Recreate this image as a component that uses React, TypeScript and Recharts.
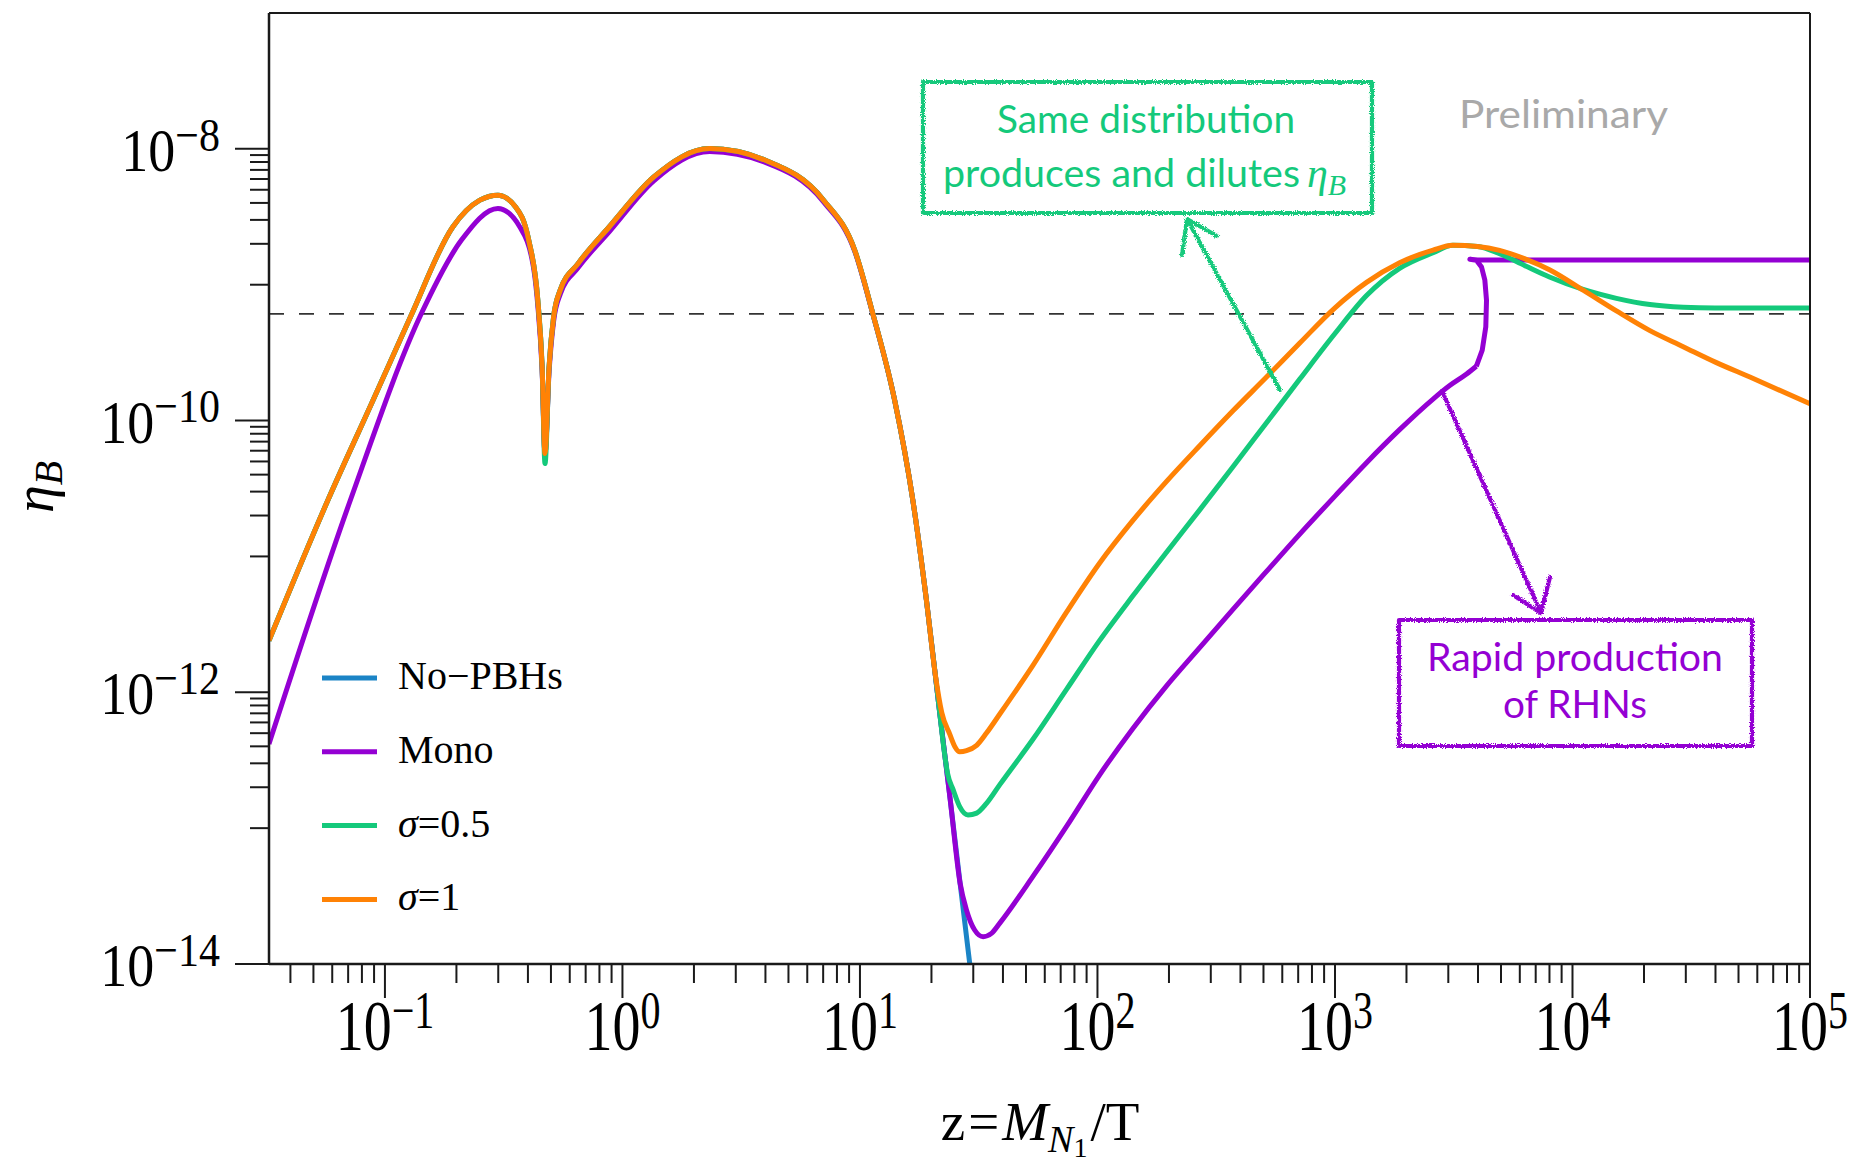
import React from "react";
import { LineChart, Line, XAxis, YAxis, ReferenceLine, Legend } from "recharts";

type Pt = [number, number];

// z = M_N1 / T  against  eta_B
const noPbhs: Pt[] = [
  [0.0325, 2.4e-12], [0.0575, 2.59e-11], [0.0891, 1.41e-10], [0.128, 5.79e-10],
  [0.193, 2.66e-9], [0.251, 4.19e-9], [0.299, 4.56e-9], [0.355, 3.74e-9],
  [0.403, 2.13e-9], [0.44, 7.76e-10], [0.459, 2.48e-10], [0.472, 5.73e-11],
  [0.491, 2.48e-10], [0.513, 5.79e-10], [0.547, 9.12e-10], [0.65, 1.43e-9],
  [0.879, 2.66e-9], [1.355, 6.21e-9], [2.33, 1.005e-8], [4.0, 8.24e-9],
  [7.03, 4.19e-9], [9.51, 1.79e-9], [11.3, 6.24e-10], [14.0, 1.41e-10],
  [16.7, 2.59e-11], [19.05, 4.76e-12], [21.6, 7.4e-13], [24.0, 1.61e-13],
  [26.4, 3.93e-14], [29.0, 1.0e-14],
];

const mono: Pt[] = [
  [0.0325, 4.17e-13], [0.0715, 2.59e-11], [0.143, 6.24e-10], [0.21, 2.13e-9],
  [0.299, 3.64e-9], [0.37, 2.66e-9], [0.422, 1.35e-9], [0.44, 7.08e-10],
  [0.459, 2.34e-10], [0.472, 5.73e-11], [0.491, 2.29e-10], [0.513, 5.37e-10],
  [0.547, 8.51e-10], [0.65, 1.33e-9], [0.879, 2.45e-9], [1.355, 5.82e-9],
  [2.33, 9.55e-9], [4.0, 7.94e-9], [7.03, 4.07e-9], [9.51, 1.76e-9],
  [11.3, 6.17e-10], [14.0, 1.41e-10], [16.7, 2.59e-11], [19.05, 4.76e-12],
  [21.6, 7.4e-13], [24.0, 1.61e-13], [26.4, 3.93e-14], [28.1, 2.49e-14],
  [30.4, 1.78e-14], [33.0, 1.59e-14], [35.8, 1.68e-14], [38.8, 2.0e-14],
  [53.5, 4.41e-14], [74.1, 1.03e-13], [102, 2.46e-13], [141, 5.42e-13],
  [195, 1.11e-12], [270, 2.14e-12], [372, 4.08e-12], [515, 7.76e-12],
  [711, 1.46e-11], [1000, 2.78e-11], [1358, 4.9e-11], [1871, 8.57e-11],
  [2588, 1.44e-10], [3041, 1.81e-10], [3581, 2.2e-10], [3936, 2.51e-10],
];

// the steep jump and the flat tail of the Mono curve (x goes back a little)
const monoJump: Pt[] = [
  [3936, 2.51e-10], [4169, 3.3e-10], [4315, 4.9e-10], [4345, 7.69e-10],
  [4276, 1.08e-9], [4140, 1.35e-9], [3945, 1.51e-9], [3698, 1.54e-9],
  [3981, 1.52e-9], [100000, 1.52e-9],
];

const sigmaHalf: Pt[] = [
  [0.0325, 2.4e-12], [0.0575, 2.59e-11], [0.0891, 1.41e-10], [0.128, 5.79e-10],
  [0.193, 2.66e-9], [0.251, 4.19e-9], [0.299, 4.56e-9], [0.355, 3.74e-9],
  [0.403, 2.13e-9], [0.44, 7.76e-10], [0.459, 2.48e-10], [0.472, 4.83e-11],
  [0.491, 2.48e-10], [0.513, 5.79e-10], [0.547, 9.12e-10], [0.65, 1.43e-9],
  [0.879, 2.66e-9], [1.355, 6.21e-9], [2.33, 1.005e-8], [4.0, 8.24e-9],
  [7.03, 4.19e-9], [9.51, 1.79e-9], [11.3, 6.24e-10], [14.0, 1.41e-10],
  [16.7, 2.59e-11], [19.05, 4.76e-12], [21.6, 7.4e-13], [22.6, 3.76e-13],
  [23.4, 2.51e-13], [24.7, 1.91e-13], [26.3, 1.44e-13], [28.5, 1.25e-13],
  [31.0, 1.29e-13], [34.1, 1.52e-13], [38.8, 2.09e-13], [53.5, 4.51e-13],
  [74.1, 1.05e-12], [102, 2.4e-12], [141, 5.13e-12], [195, 1.07e-11],
  [270, 2.21e-11], [372, 4.57e-11], [515, 9.64e-11], [711, 2.02e-10],
  [1000, 4.37e-10], [1358, 8.32e-10], [1871, 1.32e-9], [2588, 1.72e-9],
  [3133, 1.95e-9], [3981, 1.91e-9], [4932, 1.69e-9], [6310, 1.38e-9],
  [8000, 1.14e-9], [11090, 9.23e-10], [15310, 7.94e-10], [21180, 7.14e-10],
  [29240, 6.82e-10], [39810, 6.73e-10], [100000, 6.73e-10],
];

const sigmaOne: Pt[] = [
  [0.0325, 2.4e-12], [0.0575, 2.59e-11], [0.0891, 1.41e-10], [0.128, 5.79e-10],
  [0.193, 2.66e-9], [0.251, 4.19e-9], [0.299, 4.56e-9], [0.355, 3.74e-9],
  [0.403, 2.13e-9], [0.44, 7.76e-10], [0.459, 2.48e-10], [0.472, 5.73e-11],
  [0.491, 2.48e-10], [0.513, 5.79e-10], [0.547, 9.12e-10], [0.65, 1.43e-9],
  [0.879, 2.66e-9], [1.355, 6.21e-9], [2.33, 1.005e-8], [4.0, 8.24e-9],
  [7.03, 4.19e-9], [9.51, 1.79e-9], [11.3, 6.24e-10], [14.0, 1.41e-10],
  [16.7, 2.59e-11], [19.05, 4.76e-12], [20.8, 1.32e-12], [22.1, 7.08e-13],
  [23.9, 4.9e-13], [25.1, 3.98e-13], [26.3, 3.65e-13], [28.1, 3.72e-13],
  [31.0, 4.07e-13], [34.1, 5.01e-13], [38.8, 6.92e-13], [53.5, 1.58e-12],
  [74.1, 3.89e-12], [102, 8.91e-12], [141, 1.84e-11], [195, 3.55e-11],
  [270, 6.55e-11], [372, 1.18e-10], [515, 2.09e-10], [711, 3.72e-10],
  [1000, 6.76e-10], [1358, 1.04e-9], [1871, 1.45e-9], [2588, 1.8e-9],
  [3133, 1.95e-9], [3981, 1.91e-9], [4932, 1.79e-9], [6310, 1.55e-9],
  [8000, 1.29e-9], [11090, 9.12e-10], [15310, 6.41e-10], [21180, 4.59e-10],
  [29240, 3.5e-10], [40360, 2.67e-10], [55850, 2.09e-10], [100000, 1.33e-10],
];

const etaObserved = 6.1e-10;

const xDomain = [0.0325, 1e5];
const yDomain = [1e-14, 1e-7];
const xMajorTicks = [0.1, 1, 10, 100, 1000, 1e4, 1e5];
const yMajorTicks = [1e-14, 1e-12, 1e-10, 1e-8];
const mantissas = [1, 2, 3, 4, 5, 6, 7, 8, 9];
const xMinorDecades = [0.01, 0.1, 1, 10, 100, 1000, 1e4];
const yMinorDecades = [1e-13, 1e-11, 1e-9];
const legendOrder = ["No−PBHs", "Mono", "σ=0.5", "σ=1"];

const xMinorTicks = xMinorDecades
  .flatMap((d) => mantissas.slice(1).map((m) => m * d))
  .filter((v) => v > xDomain[0] && v < xDomain[1]);
const yMinorTicks = yMinorDecades.flatMap((d) => mantissas.map((m) => m * d));

const BLUE = "#1b84c6";
const PURPLE = "#9400d3";
const GREEN = "#14c97b";
const ORANGE = "#ff8205";
const INK = "#1a1a1a";
const SERIF = "'Liberation Serif', 'Times New Roman', serif";
const SANS = "Lato, 'Open Sans', sans-serif";

const toRows = (pts: Pt[]) => pts.map(([z, eta]) => ({ z, eta }));

const expLabel = (v: number) => {
  const e = Math.round(Math.log10(v));
  return e < 0 ? "\u2212" + Math.abs(e) : String(e);
};

const isMajor = (list: number[], v: number) =>
  list.some((m) => Math.abs(v / m - 1) < 1e-6);

function XTick(props: any) {
  const { x, y, payload } = props;
  const major = isMajor(xMajorTicks, payload.value);
  return (
    <g>
      <line x1={x} x2={x} y1={y} y2={y + (major ? 34 : 19)} stroke={INK} strokeWidth={2} />
      {major && (
        <text
          transform={`translate(${x} ${y + 86}) scale(1 1.3)`}
          textAnchor="middle"
          fontFamily={SERIF}
          fontSize={56}
          fill="#000"
        >
          10
          <tspan fontSize={40} dy={-17}>{expLabel(payload.value)}</tspan>
        </text>
      )}
    </g>
  );
}

function YTick(props: any) {
  const { x, y, payload } = props;
  const major = isMajor(yMajorTicks, payload.value);
  return (
    <g>
      <line x1={x - (major ? 34 : 19)} x2={x} y1={y} y2={y} stroke={INK} strokeWidth={2} />
      {major && (
        <text
          transform={`translate(${x - 49} ${y + 22}) scale(1 1.12)`}
          textAnchor="end"
          fontFamily={SERIF}
          fontSize={54}
          fill="#000"
        >
          10
          <tspan fontSize={42} dy={-18}>{expLabel(payload.value)}</tspan>
        </text>
      )}
    </g>
  );
}

function legendName(name: string) {
  if (name.startsWith("σ")) {
    return (
      <>
        <tspan fontStyle="italic">σ</tspan>
        {name.slice(1)}
      </>
    );
  }
  return name;
}

function renderLegend(props: any) {
  const items = (props.payload || [])
    .filter((p: any) => p.type !== "none")
    .sort((a: any, b: any) => legendOrder.indexOf(a.value) - legendOrder.indexOf(b.value));
  return (
    <svg width={300} height={290}>
      {items.map((it: any, i: number) => {
        const y = 38 + i * 73.8;
        return (
          <g key={it.value}>
            <line x1={22} x2={77} y1={y} y2={y} stroke={it.color} strokeWidth={5} />
            <text x={98} y={y + 11} fontSize={40} fontFamily={SERIF} fill="#000">
              {legendName(it.value)}
            </text>
          </g>
        );
      })}
    </svg>
  );
}

function Annotations() {
  return (
    <svg
      width={1859}
      height={1168}
      style={{ position: "absolute", left: 0, top: 0, pointerEvents: "none" }}
    >
      <defs>
        <filter id="rough" filterUnits="userSpaceOnUse" x="0" y="0" width="1859" height="1168">
          <feTurbulence type="fractalNoise" baseFrequency="0.9" numOctaves="1" seed="7" result="noise" />
          <feDisplacementMap in="SourceGraphic" in2="noise" scale="5" xChannelSelector="R" yChannelSelector="G" />
        </filter>
      </defs>

      <g filter="url(#rough)" fill="none" strokeWidth={4.2} strokeLinecap="round" strokeLinejoin="round">
        <rect x={923} y={82} width={449} height={131} stroke={GREEN} />
        <line x1={1280} y1={390} x2={1187} y2={219} stroke={GREEN} />
        <polyline points="1182,255 1187,219 1217,236" stroke={GREEN} />
        <rect x={1399} y={620} width={353} height={126} stroke={PURPLE} />
        <line x1={1442} y1={391} x2={1541} y2={613} stroke={PURPLE} />
        <polyline points="1513,595 1541,613 1550,577" stroke={PURPLE} />
      </g>

      <g fontFamily={SANS} fontSize={39}>
        <text x={997} y={133} textLength={298} lengthAdjust="spacingAndGlyphs" fill={GREEN}>
          Same distribution
        </text>
        <text x={943} y={187} textLength={357} lengthAdjust="spacingAndGlyphs" fill={GREEN}>
          produces and dilutes
        </text>
        <text x={1307} y={187} fontFamily={SERIF} fontStyle="italic" fontSize={42} fill={GREEN}>
          η<tspan fontSize={30} dy={8}>B</tspan>
        </text>
        <text x={1459} y={128} textLength={209} lengthAdjust="spacingAndGlyphs" fill="#a9a9a9">
          Preliminary
        </text>
        <text x={1427} y={671} fontSize={38} textLength={296} lengthAdjust="spacingAndGlyphs" fill={PURPLE}>
          Rapid production
        </text>
        <text x={1503} y={718} fontSize={38} textLength={144} lengthAdjust="spacingAndGlyphs" fill={PURPLE}>
          of RHNs
        </text>
      </g>

      <text x={1040} y={1140} textAnchor="middle" fontFamily={SERIF} fontSize={55} fill="#000">
        z<tspan dx={3}>=</tspan>
        <tspan dx={3} fontStyle="italic">M</tspan>
        <tspan fontStyle="italic" fontSize={38} dy={12}>N</tspan>
        <tspan fontSize={28} dy={5}>1</tspan>
        <tspan dy={-17} dx={3}>/T</tspan>
      </text>

      <text
        transform="translate(53 487) rotate(-90)"
        textAnchor="middle"
        fontFamily={SERIF}
        fontStyle="italic"
        fontSize={56}
        fill="#000"
      >
        η<tspan fontSize={40} dy={9}>B</tspan>
      </text>
    </svg>
  );
}

export default function App() {
  const lineProps = {
    dataKey: "eta",
    dot: false,
    strokeWidth: 5,
    strokeLinejoin: "round" as const,
    isAnimationActive: false,
  };
  return (
    <div style={{ position: "absolute", left: 0, top: 0, width: 1859, height: 1168, background: "#fff" }}>
      <LineChart width={1859} height={1168} margin={{ top: 13, right: 49, bottom: 0, left: 0 }}>
        <XAxis
          dataKey="z"
          type="number"
          scale="log"
          domain={xDomain}
          allowDataOverflow
          ticks={[...xMinorTicks, ...xMajorTicks]}
          interval={0}
          tick={<XTick />}
          tickLine={false}
          tickSize={0}
          tickMargin={0}
          height={204}
          axisLine={{ stroke: INK, strokeWidth: 2.5 }}
        />
        <YAxis
          type="number"
          scale="log"
          domain={yDomain}
          allowDataOverflow
          ticks={[...yMinorTicks, ...yMajorTicks]}
          interval={0}
          tick={<YTick />}
          tickLine={false}
          tickSize={0}
          tickMargin={0}
          width={269}
          axisLine={{ stroke: INK, strokeWidth: 2.5 }}
        />
        <ReferenceLine y={etaObserved} stroke="#333" strokeWidth={1.6} strokeDasharray="15 15" />
        <Line {...lineProps} type="monotone" data={toRows(noPbhs)} name="No−PBHs" stroke={BLUE} />
        <Line {...lineProps} type="monotone" data={toRows(mono)} name="Mono" stroke={PURPLE} />
        <Line {...lineProps} type="linear" data={toRows(monoJump)} name="Mono jump" stroke={PURPLE} legendType="none" />
        <Line {...lineProps} type="monotone" data={toRows(sigmaHalf)} name="σ=0.5" stroke={GREEN} />
        <Line {...lineProps} type="monotone" data={toRows(sigmaOne)} name="σ=1" stroke={ORANGE} />
        <ReferenceLine y={yDomain[1]} stroke={INK} strokeWidth={2} />
        <ReferenceLine x={xDomain[1]} stroke={INK} strokeWidth={2} />
        <Legend
          layout="vertical"
          align="center"
          verticalAlign="middle"
          content={renderLegend}
          wrapperStyle={{ left: 300, top: 640, width: 300, height: 290 }}
        />
      </LineChart>
      <Annotations />
    </div>
  );
}
